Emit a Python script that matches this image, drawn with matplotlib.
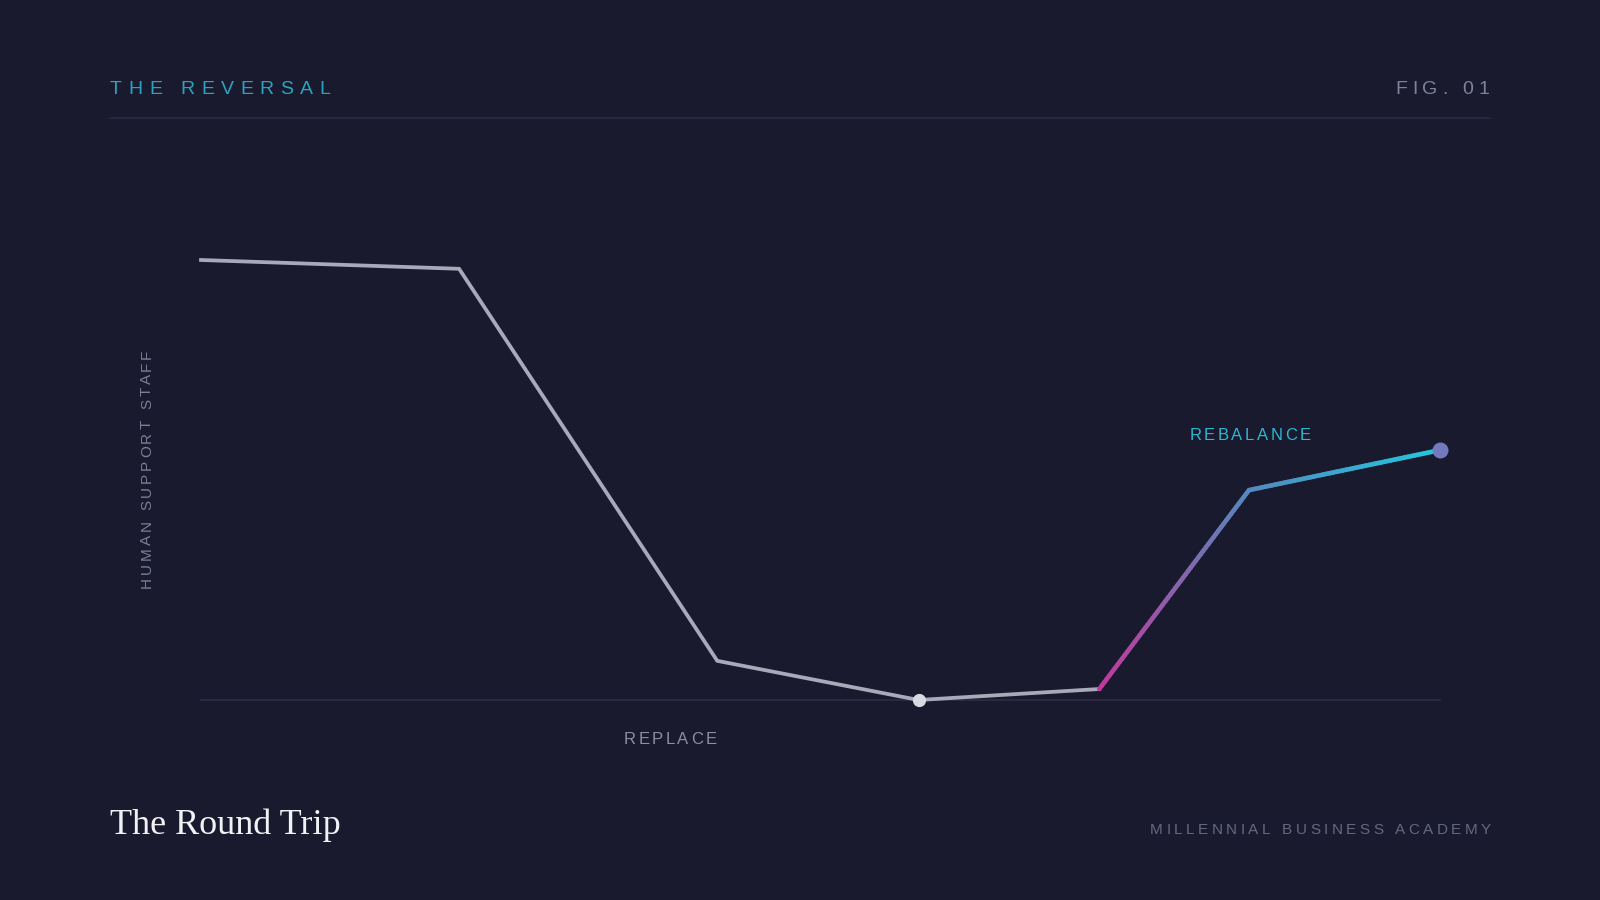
import matplotlib
matplotlib.use('Agg')
import matplotlib.pyplot as plt
import numpy as np
from matplotlib.collections import LineCollection
from matplotlib.colors import LinearSegmentedColormap
from matplotlib.font_manager import FontProperties, findfont, get_font
from matplotlib.lines import Line2D

# data: staff level over time (arbitrary units)
time = [0, 2.5, 5, 6.95, 8.7, 10.15, 12]
staff = [100, 98, 8.9, 0, 2.5, 47.7, 56.8]
low_idx = 3      # trough marker
turn_idx = 4     # where the rebalance starts

title = 'THE REVERSAL'
fig_label = 'FIG. 01'
y_label = 'HUMAN SUPPORT STAFF'
phase_left = 'REPLACE'
phase_right = 'REBALANCE'
headline = 'The Round Trip'
source = 'MILLENNIAL BUSINESS ACADEMY'

BG = '#191a2e'
GRAY = '#a9aab9'
CYAN = '#2aa3c0'
W, H = 1600, 900
DPI = 100
SANS = 'Liberation Sans'

fig = plt.figure(figsize=(16, 9), dpi=DPI, facecolor=BG)


def advances(s, fp):
    font = get_font(findfont(fp))
    font.set_size(fp.get_size_in_points(), DPI)
    return [font.load_char(ord(c)).linearHoriAdvance / 65536 for c in s]


def tracked(x, y, s, size, color, track, ha='left', vertical=False, family=SANS):
    """letter-spaced text, x/y in pixels from top-left, y is the baseline"""
    fp = FontProperties(family=family, size=size)
    adv = advances(s, fp)
    total = sum(adv) + track * (len(s) - 1)
    if ha == 'right':
        pos = -total
    elif ha == 'center':
        pos = -total / 2
    else:
        pos = 0.0
    for ch, a in zip(s, adv):
        if ch != ' ':
            if vertical:
                fig.text(x / W, 1 - (y - pos) / H, ch, fontproperties=fp, color=color,
                         rotation=90, rotation_mode='anchor', ha='left', va='baseline')
            else:
                fig.text((x + pos) / W, 1 - y / H, ch, fontproperties=fp, color=color,
                         ha='left', va='baseline')
        pos += a + track


# header
tracked(110, 94, title, 14, CYAN, 6.5)
tracked(1489, 94, fig_label, 14, '#80829a', 4.8, ha='right')
fig.add_artist(Line2D([110 / W, 1490 / W], [1 - 118 / H, 1 - 118 / H],
                      color='#2a2c43', lw=1.2))

# chart area
ax = fig.add_axes([201 / W, 1 - 700 / H, (1440 - 201) / W, 440 / H])
ax.set_xlim(time[0], time[-1])
ax.set_ylim(0, 100)
ax.axis('off')
ax.axhline(0, color='#2e3047', lw=1.1, clip_on=False, zorder=1)

ax.plot(time[:turn_idx + 1], staff[:turn_idx + 1], color=GRAY, lw=2.7,
        solid_joinstyle='miter', clip_on=False, zorder=3)

# gradient stroke for the rebalance
cmap = LinearSegmentedColormap.from_list(
    'reb', [(0, '#c2389a'), (0.45, '#538abf'), (1, '#22c8de')])
segs, cols = [], []
x0, x1 = time[turn_idx], time[-1]
for i in range(turn_idx, len(time) - 1):
    t = np.linspace(0, 1, 60)
    xs = time[i] + (time[i + 1] - time[i]) * t
    ys = staff[i] + (staff[i + 1] - staff[i]) * t
    pts = np.column_stack([xs, ys])
    for a, b in zip(pts[:-1], pts[1:]):
        segs.append([a, b])
        cols.append(cmap(((a[0] + b[0]) / 2 - x0) / (x1 - x0)))
lc = LineCollection(segs, colors=cols, linewidths=3.3, capstyle='round',
                    clip_on=False, zorder=4)
ax.add_collection(lc)

ax.plot(time[low_idx], staff[low_idx], 'o', ms=9.5, color='#d8d9e2',
        mec='none', clip_on=False, zorder=5)
ax.plot(time[-1], staff[-1], 'o', ms=11.5, color='#7379bd',
        mec='none', clip_on=False, zorder=5)

# labels
tracked(151, 588, y_label, 11, '#7c7e94', 2.9, vertical=True)
tracked(670, 744, phase_left, 12, '#8c8ea2', 2.5, ha='center')
tracked(1250, 440, phase_right, 12, '#2bb8d2', 2.6, ha='center')

# footer
fig.text(110 / W, 1 - 834 / H, headline, family='Liberation Serif', size=26,
         color='#f2f2f6', ha='left', va='baseline')
tracked(1491, 834, source, 11, '#666880', 3.5, ha='right')

fig.savefig('out.png', dpi=DPI, facecolor=BG)
